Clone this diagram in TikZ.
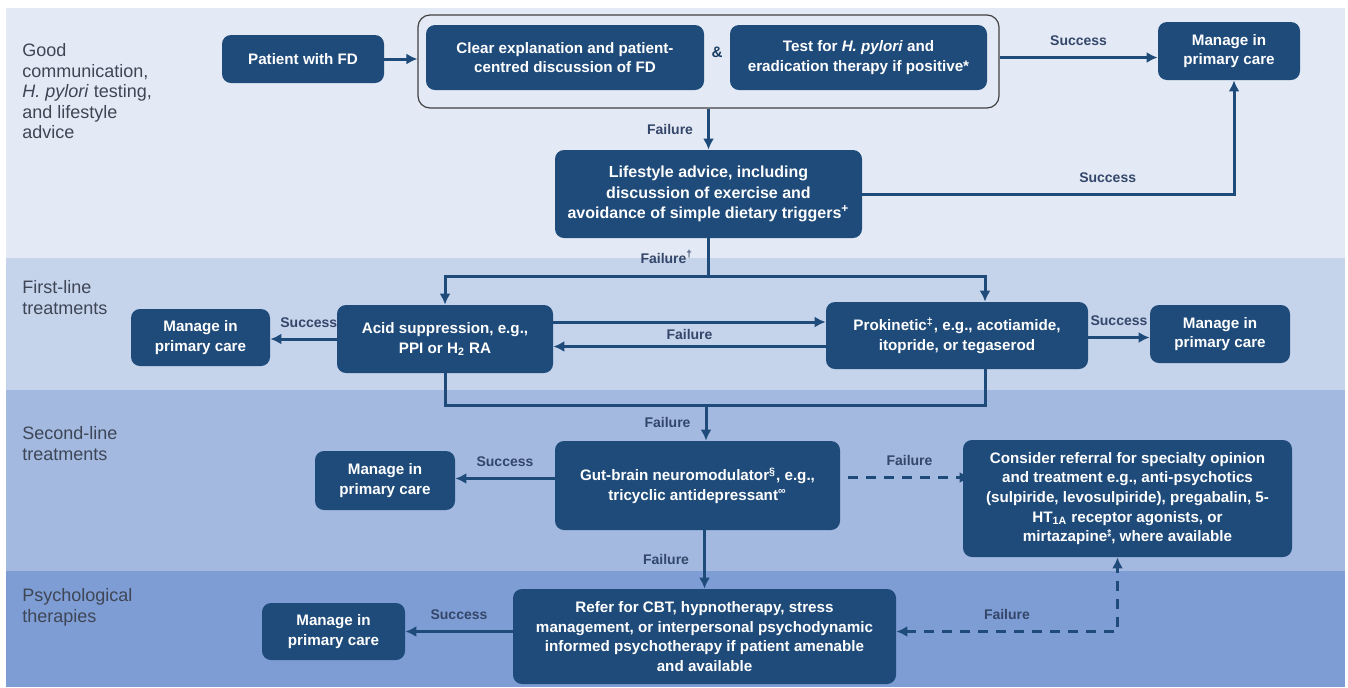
\documentclass[tikz,border=0pt]{standalone}
\usepackage{fontspec}
\setmainfont{Liberation Sans}
\usetikzlibrary{arrows.meta}

\definecolor{navy}{HTML}{1F4B7A}
\definecolor{bandA}{HTML}{E4EAF5}
\definecolor{bandB}{HTML}{C5D3EB}
\definecolor{bandC}{HTML}{A3B9E0}
\definecolor{bandD}{HTML}{7E9DD4}
\definecolor{secc}{HTML}{3E4656}
\definecolor{lblc}{HTML}{34476A}

\newcommand{\boxfont}{\bfseries\fontsize{7.6}{9.8}\selectfont}
\newcommand{\lblfont}{\bfseries\fontsize{7}{8}\selectfont}
\newcommand{\secfont}{\fontsize{9}{10.3}\selectfont}
\newcommand{\twostar}{{\fontsize{5}{5}\selectfont\rlap{\raisebox{2.6pt}{*}}\raisebox{0.6pt}{*}}}

\begin{document}
\begin{tikzpicture}[x=0.5pt, y=-0.5pt, >={Latex[length=5.5pt,width=5.5pt]},
  box/.style={fill=navy, rounded corners=4.5pt, text=white, align=center, font=\boxfont, inner sep=2pt},
  mgr/.style={box, minimum width=70pt, minimum height=29pt},
  flow/.style={->, draw=navy, line width=1.5pt},
  dflow/.style={flow, dash pattern=on 5pt off 4pt},
  lbl/.style={font=\lblfont, text=lblc, inner sep=1pt},
  sec/.style={anchor=north west, align=left, inner sep=0pt, text=secc, font=\secfont}]
  \useasboundingbox (0,0) rectangle (1348,687);

  % bands
  \fill[bandA] (6,8) rectangle (1345,258);
  \fill[bandB] (6,258) rectangle (1345,390);
  \fill[bandC] (6,390) rectangle (1345,571);
  \fill[bandD] (6,571) rectangle (1345,687);

  \node[sec] (secA) at (22,43) {Good\\communication,\\\textit{H. pylori} testing,\\and lifestyle\\advice};
  \node[sec] (secB) at (22,280) {First-line\\treatments};
  \node[sec] (secC) at (22,426) {Second-line\\treatments};
  \node[sec] (secD) at (22,588) {Psychological\\therapies};

  % good communication
  \node[draw=black!75, line width=0.6pt, rounded corners=6pt, minimum width=290.5pt, minimum height=46.5pt] (group) at (708.5,61.5) {};
  \node[box, minimum width=81pt, minimum height=24pt] (patient) at (303,59) {Patient with FD};
  \node[box, minimum width=139pt, minimum height=32.5pt] (clear) at (565,57.5) {Clear explanation and patient-\\centred discussion of FD};
  \node[font=\boxfont, text=navy!80!black] (amp) at (717,52) {\&};
  \node[box, minimum width=128.5pt, minimum height=32.5pt] (test) at (858.5,57.5) {Test for \textit{H. pylori} and\\eradication therapy if positive*};
  \node[mgr, minimum width=71pt] (mgrA) at (1229,51) {Manage in\\primary care};
  \node[box, minimum width=153.5pt, minimum height=44pt, font=\bfseries\fontsize{8}{10.2}\selectfont] (life) at (708.5,194) {Lifestyle advice, including\\discussion of exercise and\\avoidance of simple dietary triggers\textsuperscript{+}};

  % first-line
  \node[box, minimum width=108pt, minimum height=34pt] (acid) at (445,339) {Acid suppression, e.g.,\\PPI or H\textsubscript{2} RA};
  \node[mgr, minimum width=69.5pt, minimum height=28.5pt] (mgrB) at (200.5,337.5) {Manage in\\primary care};
  \node[box, minimum width=131pt, minimum height=33.5pt] (prok) at (957,335.5) {Prokinetic\textsuperscript{‡}, e.g., acotiamide,\\itopride, or tegaserod};
  \node[mgr] (mgrC) at (1220,334) {Manage in\\primary care};

  % second-line
  \node[box, minimum width=142.5pt, minimum height=44.5pt] (gut) at (697.5,485.5) {Gut-brain neuromodulator\textsuperscript{§}, e.g.,\\tricyclic antidepressant\textsuperscript{∞}};
  \node[mgr, minimum height=29.5pt] (mgrD) at (385,480.5) {Manage in\\primary care};
  \node[box, minimum width=164.5pt, minimum height=58.5pt] (consider) at (1127.5,498.5) {Consider referral for specialty opinion\\and treatment e.g., anti-psychotics\\(sulpiride, levosulpiride), pregabalin, 5-\\HT\textsubscript{1A} receptor agonists, or\\mirtazapine\twostar, where available};

  % psychological
  \node[box, minimum width=191.5pt, minimum height=47.5pt] (refer) at (704.5,636.5) {Refer for CBT, hypnotherapy, stress\\management, or interpersonal psychodynamic\\informed psychotherapy if patient amenable\\and available};
  \node[mgr, minimum width=71.5pt, minimum height=28.5pt] (mgrE) at (333.5,631.5) {Manage in\\primary care};

  \coordinate (split) at (708.5,276);
  \coordinate (merge) at (706,405);

  \draw[flow] (patient.east) -- (patient.east -| group.west);
  \draw[flow] (group.east |- test) -- node[lbl, above=4pt] {Success} (mgrA.west |- test);
  \draw[flow] (group.south) -- node[lbl, left=6pt] {Failure} (life.north);
  \draw[flow] (life.east) -| node[lbl, above=4pt, pos=0.33] {Success} ([xshift=2.5pt]mgrA.south);
  \draw[flow, -] (life.south) -- node[lbl, left=6pt] {Failure\textsuperscript{†}} (split);
  \draw[flow] (split) -| (acid.north);
  \draw[flow] (split) -| ([xshift=14pt]prok.north);

  \draw[flow] (acid.west) -- node[lbl, above=4pt, pos=0.42] {Success} (acid.west -| mgrB.east);
  \draw[flow] ([yshift=8.5pt]acid.east) -- node[lbl, below=2pt] {Failure} ([yshift=8.5pt]acid.east -| prok.west);
  \draw[flow] ([yshift=-5.5pt]prok.west) -- ([yshift=-5.5pt]prok.west -| acid.east);
  \draw[flow] ([yshift=-1pt]prok.east) -- node[lbl, above=4pt] {Success} ([yshift=-1pt]prok.east -| mgrC.west);
  \draw[flow, -] (acid.south) |- (merge);
  \draw[flow, -] ([xshift=14pt]prok.south) |- (merge);
  \draw[flow] (merge) -- node[lbl, left=6pt] {Failure} (merge |- gut.north);

  \draw[flow] ([yshift=3.5pt]gut.west) -- node[lbl, above=4pt] {Success} ([yshift=3.5pt]gut.west -| mgrD.east);
  \draw[dflow] ([shift={(8,-8)}]gut.east) -- node[lbl, above=4pt] {Failure} ([shift={(8,-8)}]gut.east -| consider.west);
  \draw[flow] (refer.north |- gut.south) -- node[lbl, left=6pt] {Failure} (refer.north);

  \draw[flow] ([yshift=2.5pt]refer.west) -- node[lbl, above=4pt] {Success} ([yshift=2.5pt]refer.west -| mgrE.east);
  \draw[dflow, <->] ([yshift=2.5pt]refer.east) -| node[lbl, above=4pt, pos=0.25] {Failure} ([xshift=-5pt]consider.south);
\end{tikzpicture}
\end{document}
